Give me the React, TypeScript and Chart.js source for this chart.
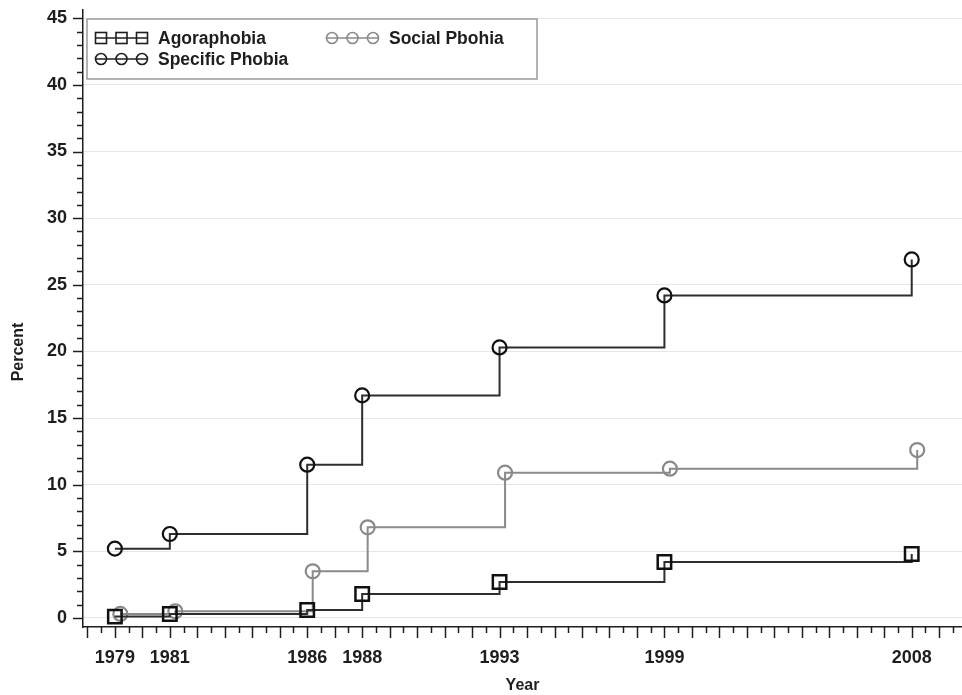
import React, { useEffect, useRef } from 'react';
import { Chart, registerables } from 'chart.js';

Chart.register(...registerables);

// ---- Data ----
const years = [1979, 1981, 1986, 1988, 1993, 1999, 2008];
const socialYears = [1979.2, 1981.2, 1986.2, 1988.2, 1993.2, 1999.2, 2008.2];
const agoraphobia = [0.1, 0.3, 0.6, 1.8, 2.7, 4.2, 4.8];
const specificPhobia = [5.2, 6.3, 11.5, 16.7, 20.3, 24.2, 26.9];
const socialPhobia = [0.3, 0.5, 3.5, 6.8, 10.9, 11.2, 12.6];
const xTickLabels = [1979, 1981, 1986, 1988, 1993, 1999, 2008];
const yTickLabels = [0, 5, 10, 15, 20, 25, 30, 35, 40, 45];
const seriesNames = ['Agoraphobia', 'Specific Phobia', 'Social Pbohia'];

const FONT = "'Liberation Sans', Arial, Helvetica, sans-serif";
const DARK = '#1e1e1e';
const LINE = '#2e2e2e';
const GRAY = '#8a8a8a';

function drawSym(ctx: CanvasRenderingContext2D, kind: string, cx: number, cy: number, color: string) {
  ctx.strokeStyle = color;
  ctx.lineWidth = 1.6;
  if (kind === 'rect') {
    ctx.strokeRect(cx - 5.5, cy - 5.5, 11, 11);
  } else {
    ctx.beginPath();
    ctx.arc(cx, cy, 5.5, 0, Math.PI * 2);
    ctx.stroke();
  }
}

const decorPlugin = {
  id: 'decor',
  afterDraw(chart: any) {
    const { ctx, chartArea, scales } = chart;
    const x = scales.x;
    const y = scales.y;
    ctx.save();
    ctx.strokeStyle = DARK;
    ctx.lineWidth = 1.5;
    // x-axis tick marks (every half year)
    for (let v = Math.ceil(x.min * 2) / 2; v <= x.max + 1e-9; v += 0.5) {
      const px = Math.round(x.getPixelForValue(v)) + 0.5;
      const len = Math.abs(v - Math.round(v)) < 1e-6 ? 11 : 6;
      ctx.beginPath();
      ctx.moveTo(px, chartArea.bottom);
      ctx.lineTo(px, chartArea.bottom + len);
      ctx.stroke();
    }
    // y-axis tick marks (every unit)
    for (let v = 0; v <= 45; v++) {
      const py = Math.round(y.getPixelForValue(v)) + 0.5;
      const len = v % 5 === 0 ? 10 : 6;
      ctx.beginPath();
      ctx.moveTo(chartArea.left - len, py);
      ctx.lineTo(chartArea.left, py);
      ctx.stroke();
    }
    // y-axis title
    ctx.save();
    ctx.translate(18.5, 352);
    ctx.rotate(-Math.PI / 2);
    ctx.fillStyle = DARK;
    ctx.font = `bold 16px ${FONT}`;
    ctx.textAlign = 'center';
    ctx.textBaseline = 'middle';
    ctx.fillText('Percent', 0, 0);
    ctx.restore();

    // legend
    const bx = 87, by = 19, bw = 450, bh = 60;
    ctx.fillStyle = '#ffffff';
    ctx.fillRect(bx, by, bw, bh);
    ctx.strokeStyle = '#9a9a9a';
    ctx.lineWidth = 1.5;
    ctx.strokeRect(bx, by, bw, bh);
    const items = [
      { name: seriesNames[0], kind: 'rect', color: DARK, sx: 95, ty: 38 },
      { name: seriesNames[1], kind: 'circle', color: DARK, sx: 95, ty: 59 },
      { name: seriesNames[2], kind: 'circle', color: GRAY, sx: 326, ty: 38 },
    ];
    ctx.font = `bold 17.5px ${FONT}`;
    ctx.textBaseline = 'middle';
    ctx.textAlign = 'left';
    for (const it of items) {
      const centers = [it.sx + 6, it.sx + 26.5, it.sx + 47];
      ctx.strokeStyle = it.color;
      ctx.lineWidth = 1.6;
      ctx.beginPath();
      ctx.moveTo(centers[0] - 5.5, it.ty);
      ctx.lineTo(centers[2] + 5.5, it.ty);
      ctx.stroke();
      for (const c of centers) drawSym(ctx, it.kind, c, it.ty, it.color);
      ctx.fillStyle = DARK;
      ctx.fillText(it.name, it.sx + 63, it.ty + 1);
    }
    ctx.restore();
  },
};

export default function App() {
  const canvasRef = useRef<HTMLCanvasElement | null>(null);

  useEffect(() => {
    if (!canvasRef.current) return;
    const chart = new Chart(canvasRef.current, {
      type: 'line',
      data: {
        datasets: [
          {
            label: seriesNames[0],
            data: years.map((yr, i) => ({ x: yr, y: agoraphobia[i] })),
            stepped: true,
            borderColor: LINE,
            borderWidth: 2,
            pointStyle: 'rect',
            pointRadius: 9.5,
            pointBorderWidth: 2.5,
            pointBorderColor: '#111',
            pointBackgroundColor: 'rgba(0,0,0,0)',
            fill: false,
            clip: false,
            order: 0,
          },
          {
            label: seriesNames[1],
            data: years.map((yr, i) => ({ x: yr, y: specificPhobia[i] })),
            stepped: true,
            borderColor: LINE,
            borderWidth: 2,
            pointStyle: 'circle',
            pointRadius: 7,
            pointBorderWidth: 2.2,
            pointBorderColor: '#111',
            pointBackgroundColor: 'rgba(0,0,0,0)',
            fill: false,
            clip: false,
            order: 1,
          },
          {
            label: seriesNames[2],
            data: socialYears.map((yr, i) => ({ x: yr, y: socialPhobia[i] })),
            stepped: true,
            borderColor: GRAY,
            borderWidth: 2,
            pointStyle: 'circle',
            pointRadius: 7,
            pointBorderWidth: 2.2,
            pointBorderColor: GRAY,
            pointBackgroundColor: 'rgba(0,0,0,0)',
            fill: false,
            clip: false,
            order: 2,
          },
        ],
      },
      options: {
        responsive: false,
        animation: false,
        devicePixelRatio: 1,
        layout: { autoPadding: false, padding: { top: 10, right: 0, bottom: 0, left: 0 } },
        plugins: { legend: { display: false }, tooltip: { enabled: false } },
        scales: {
          x: {
            type: 'linear',
            min: 1977.84,
            max: 2009.83,
            afterBuildTicks: (scale: any) => {
              scale.ticks = xTickLabels.map((v) => ({ value: v }));
            },
            afterFit: (scale: any) => {
              scale.height = 68;
              scale.paddingLeft = 0;
              scale.paddingRight = 0;
              scale.paddingTop = 0;
              scale.paddingBottom = 0;
            },
            grid: { display: false, drawTicks: false },
            border: { display: true, color: DARK, width: 1.5 },
            ticks: {
              autoSkip: false,
              maxRotation: 0,
              padding: 20,
              color: DARK,
              font: { family: FONT, size: 18, weight: 'bold' },
              callback: (v: any) => String(v),
            },
            title: {
              display: true,
              text: 'Year',
              color: DARK,
              font: { family: FONT, size: 16, weight: 'bold' },
              padding: { top: 0, bottom: 0 },
            },
          },
          y: {
            type: 'linear',
            min: -0.68,
            max: 45.62,
            afterBuildTicks: (scale: any) => {
              scale.ticks = yTickLabels.map((v) => ({ value: v }));
            },
            afterFit: (scale: any) => {
              scale.width = 83;
              scale.paddingLeft = 0;
              scale.paddingRight = 0;
              scale.paddingTop = 0;
              scale.paddingBottom = 0;
            },
            grid: { color: '#e6e6e6', lineWidth: 1, drawTicks: false },
            border: { display: true, color: DARK, width: 1.5 },
            ticks: {
              padding: 16,
              color: DARK,
              font: { family: FONT, size: 18, weight: 'bold' },
              callback: (v: any) => String(v),
            },
          },
        },
      },
      plugins: [decorPlugin],
    } as any);
    return () => chart.destroy();
  }, []);

  return (
    <div style={{ position: 'fixed', left: 0, top: 0, width: 962, height: 695, background: '#fff' }}>
      <canvas ref={canvasRef} width={962} height={695} style={{ width: 962, height: 695, display: 'block' }} />
    </div>
  );
}
